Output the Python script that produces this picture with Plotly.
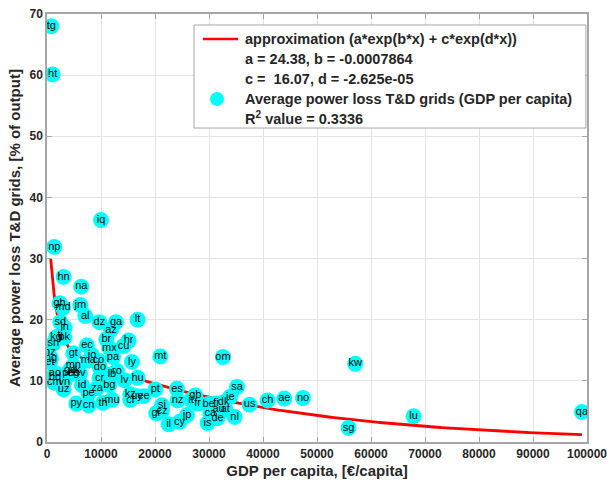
import numpy as np
import plotly.graph_objects as go

# Country codes, GDP per capita [€/capita] and average T&D grid losses [% of output]
codes = ["tg", "ht", "iq", "np", "hn", "na", "gh", "md", "jm", "al",
         "dz", "ga", "lt", "az", "sd", "in", "kg", "tj", "pk", "sn",
         "br", "hr", "mx", "cu", "ec", "mz", "ng", "et", "gt", "jo",
         "pa", "ly", "mt", "ma", "co", "do", "ro", "lb", "ao", "bd",
         "ph", "eg", "lk", "sv", "mn", "ge", "cm", "vn", "uz", "id",
         "za", "bg", "pe", "cr", "lv", "hu", "mu", "th", "py", "cn",
         "kz", "cl", "uy", "ee", "pt", "es", "si", "gr", "cz", "il",
         "cy", "jp", "nz", "it", "gb", "fr", "be", "fi", "dk", "ie",
         "ca", "au", "at", "is", "de", "nl", "sa", "us", "ch", "ae",
         "no", "om", "kw", "lu", "sg", "qa"]
gdp = [800, 1040, 10000, 1350, 3080, 6350, 2340, 2960, 6170, 7090,
       9690, 12780, 16780, 11850, 2460, 3270, 1670, 2460, 3200, 1170,
       10980, 15110, 11540, 14190, 7400, 240, 740, 560, 4870, 8330,
       12220, 15740, 20980, 7650, 9500, 9810, 12960, 12030, 1480, 1480,
       3940, 4870, 5480, 6110, 4870, 4260, 1350, 3200, 3080, 6480,
       9250, 11540, 7710, 9740, 14370, 16780, 12030, 10370, 5430, 7710,
       15430, 15430, 16670, 17890, 20060, 24070, 21300, 20240, 21300, 22520,
       24560, 25930, 24190, 26670, 27460, 27890, 29930, 31300, 32700, 33940,
       30240, 31780, 33020, 29740, 31600, 34740, 35190, 37520, 40850, 43940,
       47410, 32590, 57090, 67890, 55850, 99070]
loss = [68.0, 60.1, 36.3, 31.9, 27.0, 25.4, 22.7, 22.0, 22.4, 20.6,
        19.6, 19.6, 20.0, 18.3, 19.6, 18.7, 17.1, 17.5, 17.1, 16.1,
        16.8, 16.6, 15.4, 15.7, 15.8, 14.6, 13.7, 13.1, 14.5, 14.2,
        13.9, 13.1, 14.0, 13.3, 13.3, 12.2, 11.6, 11.1, 11.3, 10.6,
        11.3, 11.2, 11.8, 11.2, 12.5, 11.8, 9.7, 9.8, 8.6, 9.3,
        8.8, 9.3, 8.0, 10.5, 10.1, 10.5, 6.9, 6.4, 6.3, 6.0,
        7.8, 6.9, 7.5, 7.5, 8.6, 8.7, 6.0, 4.7, 5.1, 2.9,
        3.3, 4.4, 6.8, 6.9, 7.6, 6.3, 6.2, 6.3, 6.5, 7.4,
        4.7, 5.3, 5.3, 3.1, 3.9, 4.1, 9.0, 6.1, 6.8, 7.1,
        7.2, 13.9, 12.8, 4.2, 2.3, 4.9]

# Two-term exponential fit parameters
fit_a, fit_b = 24.38, -0.0007864
fit_c, fit_d = 16.07, -2.625e-05
r_squared = 0.3336
fit_x_start, fit_x_end = 690, 99070

x_ticks = [0, 10000, 20000, 30000, 40000, 50000, 60000, 70000, 80000, 90000, 100000]
y_ticks = [0, 10, 20, 30, 40, 50, 60, 70]

legend_lines = [
    "approximation (a*exp(b*x) + c*exp(d*x))",
    f"a = {fit_a}, b = {fit_b}",
    f"c =  {fit_c}, d = -2.625e-05",
    "Average power loss T&D grids (GDP per capita)",
    f"R<sup>2</sup> value = {r_squared}",
]

xf = np.linspace(fit_x_start, fit_x_end, 500)
yf = fit_a * np.exp(fit_b * xf) + fit_c * np.exp(fit_d * xf)

FONT = "Liberation Sans, Arial, sans-serif"
RED = "#ff0000"
CYAN = "#00ffff"
FRAME = "#a6a6a6"

fig = go.Figure()
fig.add_trace(go.Scatter(
    x=xf, y=yf, mode="lines",
    line=dict(color=RED, width=2.8),
    name=legend_lines[0], showlegend=False,
))
fig.add_trace(go.Scatter(
    x=gdp, y=loss, mode="markers+text", text=codes,
    textposition="middle center",
    textfont=dict(family=FONT, size=11, color="#000000"),
    marker=dict(color=CYAN, size=16, line=dict(width=0)),
    name=legend_lines[3], showlegend=False,
))

# Legend box drawn in paper coordinates
box_x0, box_x1 = 0.2722, 0.998
box_y0, box_y1 = 0.7336, 0.9743
text_x = 0.363
row_y = [0.9416, 0.8942, 0.8489, 0.8014, 0.7577]

shapes = [
    dict(type="rect", xref="paper", yref="paper",
         x0=box_x0, x1=box_x1, y0=box_y0, y1=box_y1,
         line=dict(color=FRAME, width=1), fillcolor="white", layer="above"),
    dict(type="line", xref="paper", yref="paper",
         x0=0.2889, x1=0.3537, y0=row_y[0], y1=row_y[0],
         line=dict(color=RED, width=2.5), layer="above"),
    dict(type="circle", xref="paper", yref="paper",
         x0=0.3148 - 7 / 540, x1=0.3148 + 7 / 540,
         y0=row_y[3] - 7 / 428, y1=row_y[3] + 7 / 428,
         line=dict(width=0), fillcolor=CYAN, layer="above"),
]
annotations = [
    dict(text=t, xref="paper", yref="paper", x=text_x, y=yy,
         xanchor="left", yanchor="middle", showarrow=False,
         font=dict(family=FONT, size=14.5, color="#262626", weight="bold"))
    for t, yy in zip(legend_lines, row_y)
]

axis_common = dict(
    showgrid=True, gridcolor="#e3e3e3", gridwidth=1,
    showline=True, linecolor=FRAME, linewidth=1.5, mirror="ticks",
    ticks="inside", ticklen=5, tickcolor=FRAME,
    zeroline=False, ticklabeloverflow="allow", automargin=False,
    tickfont=dict(family=FONT, size=12, color="#262626", weight="bold"),
)

fig.update_layout(
    width=607, height=483,
    margin=dict(l=47, r=20, t=14, b=41),
    paper_bgcolor="white", plot_bgcolor="white",
    font=dict(family=FONT, color="#262626"),
    showlegend=False,
    shapes=shapes,
    annotations=annotations,
    xaxis=dict(
        range=[0, 100000.5], tickvals=x_ticks, ticktext=[str(v) for v in x_ticks],
        title=dict(text="GDP per capita, [€/capita]",
                   font=dict(family=FONT, size=15, color="#262626", weight="bold"),
                   standoff=5),
        **axis_common,
    ),
    yaxis=dict(
        range=[0, 70], tickvals=y_ticks,
        title=dict(text="Average power loss T&D grids, [% of output]",
                   font=dict(family=FONT, size=15, color="#262626", weight="bold"),
                   standoff=5),
        **axis_common,
    ),
)

fig.write_html("out.html")
